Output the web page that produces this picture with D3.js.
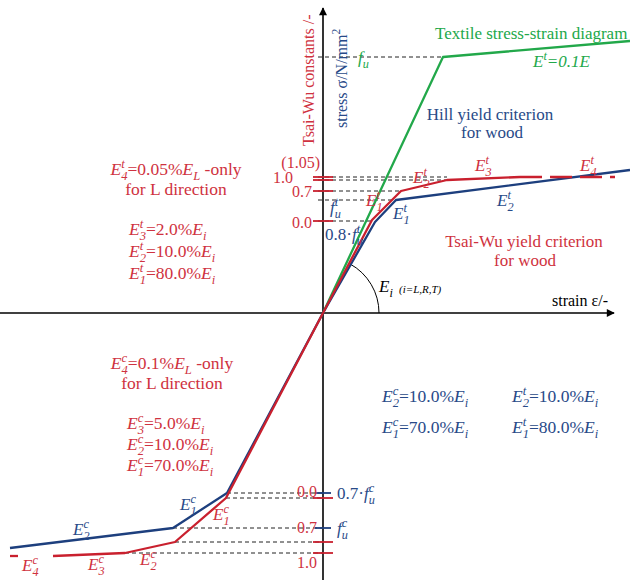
<!DOCTYPE html>
<html>
<head>
<meta charset="utf-8">
<script src="https://cdn.jsdelivr.net/npm/d3@7"></script>
<style>
  body { margin: 0; background: #fff; }
  svg text { font-family: "Liberation Serif", "Times New Roman", serif; }
</style>
</head>
<body>
<script>
// strain (x) / stress (y) in drawing units
const textileCurve = [[0, 0], [12.0, 25.6], [30.7, 27.2]];
const hillTension = [[0, 0], [5.2, 9.1], [7.3, 11.3], [30.7, 14.3]];
const tsaiTension = [[0, 0], [4.9, 9.3], [7.8, 12.2], [12.4, 13.3], [19.7, 13.6]];
const tsaiTensionE4 = [[19.7, 13.6], [29.2, 13.6]];
const hillCompression = [[0, 0], [-9.6, -18.0], [-15.0, -21.5], [-31.3, -23.5]];
const tsaiCompression = [[0, 0], [-9.7, -18.5], [-14.8, -22.9], [-19.8, -24.0], [-27.0, -24.3]];
const tsaiCompressionE4 = [[-31.3, -24.3], [-27.0, -24.3]];

// dashed reference levels: [stress, strain where the level meets its curve]
const levelsTension = [[9.2, 4.9], [11.3, 7.3], [12.2, 7.8], [13.3, 12.4], [13.6, 12.4], [25.6, 12.0]];
const levelsCompression = [[-18.0, -9.6], [-18.5, -9.7], [-21.5, -15.0], [-22.9, -14.8], [-24.0, -19.8]];

// Tsai-Wu constants marked on the stress axis
const tsaiMarksT = [9.2, 12.2, 13.3, 13.6];
const tsaiLabelsT = ["0.0", "0.7", "1.0", "(1.05)"];
const tsaiMarksC = [-18.5, -22.9, -24.0];
const tsaiLabelsC = ["0.0", "0.7", "1.0"];

// Hill strength levels
const hillMarksT = [9.2, 11.3];
const hillLabelsT = ["0.8·~f~_u^t", "~f~_u^t"];
const hillMarksC = [-18.0, -21.5];
const hillLabelsC = ["0.7·~f~_u^c", "~f~_u^c"];

// note blocks
const tsaiNotesT = ["~E~_4^t=0.05%~E~_L -only", "for L direction", "~E~_3^t=2.0%~E~_i", "~E~_2^t=10.0%~E~_i", "~E~_1^t=80.0%~E~_i"];
const tsaiNotesC = ["~E~_4^c=0.1%~E~_L -only", "for L direction", "~E~_3^c=5.0%~E~_i", "~E~_2^c=10.0%~E~_i", "~E~_1^c=70.0%~E~_i"];
const hillNotes = ["~E~_2^c=10.0%~E~_i", "~E~_2^t=10.0%~E~_i", "~E~_1^c=70.0%~E~_i", "~E~_1^t=80.0%~E~_i"];

const green = "#22a84a";
const blue = "#1d3f7e";
const red = "#c9202e";
const redText = "#cf3240";
const blueText = "#284a88";

const width = 630;
const height = 580;

let svg = d3.select("body").append("svg")
    .attr("width", width)
    .attr("height", height);

let x = d3.scaleLinear().domain([-32.3, 30.7]).range([0, width]);
let y = d3.scaleLinear().domain([-26.7, 31.3]).range([height, 0]);

let line = d3.line().x(d => x(d[0])).y(d => y(d[1]));

// small rich text helper: ~ toggles italic, _c subscript, ^c superscript
function rich(sel, str, px, py, size, color, anchor) {
    const t = sel.append("text")
        .attr("x", px).attr("y", py)
        .attr("fill", color)
        .attr("text-anchor", anchor || "start")
        .style("font-size", size + "px");
    let italic = false, lastItalic = false, shift = 0, prevSub = null, pendingDx = 0;
    let i = 0;
    while (i < str.length) {
        const c = str[i];
        if (c === "~") { italic = !italic; i++; continue; }
        if (c === "_" || c === "^") {
            const target = c === "_" ? size * 0.3 : -size * 0.42;
            const sp = t.append("tspan").text(str[i + 1])
                .attr("dy", target - shift)
                .style("font-size", size * 0.72 + "px")
                .style("font-style", lastItalic ? "italic" : "normal");
            if (c === "^" && prevSub) {
                const wSub = prevSub.node().getComputedTextLength();
                sp.attr("dx", -wSub);
                const wSup = sp.node().getComputedTextLength();
                pendingDx = Math.max(0, wSub - wSup);
            }
            prevSub = c === "_" ? sp : null;
            shift = target;
            i += 2;
            continue;
        }
        let j = i;
        while (j < str.length && !"~_^".includes(str[j])) j++;
        const run = t.append("tspan").text(str.slice(i, j))
            .attr("dy", -shift)
            .style("font-style", italic ? "italic" : "normal");
        if (pendingDx) run.attr("dx", pendingDx);
        pendingDx = 0;
        lastItalic = italic;
        shift = 0;
        prevSub = null;
        i = j;
    }
    return t;
}

// arrow heads
svg.append("defs").append("marker")
    .attr("id", "arrow")
    .attr("viewBox", "0 0 10 10")
    .attr("refX", 9).attr("refY", 5)
    .attr("markerUnits", "userSpaceOnUse")
    .attr("markerWidth", 12).attr("markerHeight", 8)
    .attr("orient", "auto")
    .append("path")
    .attr("d", "M0,0L10,5L0,10z")
    .attr("fill", "#000");

// dashed guide lines
const guides = svg.append("g")
    .attr("stroke", "#222")
    .attr("stroke-width", 1)
    .attr("stroke-dasharray", "4,3")
    .attr("fill", "none");

guides.selectAll(".gt")
    .data(levelsTension)
    .join("line")
    .attr("class", "gt")
    .attr("x1", x(-0.5))
    .attr("x2", d => x(d[1]))
    .attr("y1", d => y(d[0]))
    .attr("y2", d => y(d[0]));

guides.selectAll(".gc")
    .data(levelsCompression)
    .join("line")
    .attr("class", "gc")
    .attr("x1", d => x(d[1]))
    .attr("x2", x(0))
    .attr("y1", d => y(d[0]))
    .attr("y2", d => y(d[0]));

// axes
svg.append("line")
    .attr("x1", x(-32.3)).attr("x2", x(29.1))
    .attr("y1", y(0)).attr("y2", y(0))
    .attr("stroke", "#000").attr("stroke-width", 1.6)
    .attr("marker-end", "url(#arrow)");

svg.append("line")
    .attr("x1", x(0)).attr("x2", x(0))
    .attr("y1", y(-26.7)).attr("y2", y(30.5))
    .attr("stroke", "#000").attr("stroke-width", 1.6)
    .attr("marker-end", "url(#arrow)");

// angle arc for E_i
let arc = d3.path();
arc.arc(x(0), y(0), 56, -1.07, 0);
svg.append("path")
    .attr("d", arc.toString())
    .attr("fill", "none")
    .attr("stroke", "#000")
    .attr("stroke-width", 1);

// curves
const curves = [
    { pts: textileCurve, color: green, dash: null },
    { pts: hillTension, color: blue, dash: null },
    { pts: hillCompression, color: blue, dash: null },
    { pts: tsaiTension, color: red, dash: null },
    { pts: tsaiTensionE4, color: red, dash: "22,8" },
    { pts: tsaiCompression, color: red, dash: null },
    { pts: tsaiCompressionE4, color: red, dash: "8,36" }
];

svg.selectAll(".curve")
    .data(curves)
    .join("path")
    .attr("class", "curve")
    .attr("d", d => line(d.pts))
    .attr("fill", "none")
    .attr("stroke", d => d.color)
    .attr("stroke-width", 2.3)
    .attr("stroke-linejoin", "round")
    .attr("stroke-dasharray", d => d.dash);

// short marks on the stress axis
svg.selectAll(".tickT")
    .data(tsaiMarksT.concat(tsaiMarksC))
    .join("line")
    .attr("class", "tickT")
    .attr("x1", x(-1.0)).attr("x2", x(1.0))
    .attr("y1", d => y(d)).attr("y2", d => y(d))
    .attr("stroke", red).attr("stroke-width", 1.8);

svg.selectAll(".tickH")
    .data(hillMarksC)
    .join("line")
    .attr("class", "tickH")
    .attr("x1", x(-0.8)).attr("x2", x(0.8))
    .attr("y1", d => y(d)).attr("y2", d => y(d))
    .attr("stroke", blue).attr("stroke-width", 1.8);

// axis numbers
const tsaiLabelPosT = [[312, 7], [312, 6], [293, 3], [320, -9]];
tsaiLabelsT.forEach((s, i) => {
    rich(svg, s, tsaiLabelPosT[i][0], y(tsaiMarksT[i]) + tsaiLabelPosT[i][1], 16, redText, "end");
});
const tsaiLabelPosC = [[317, -1], [317, -9], [317, 15]];
tsaiLabelsC.forEach((s, i) => {
    rich(svg, s, tsaiLabelPosC[i][0], y(tsaiMarksC[i]) + tsaiLabelPosC[i][1], 16, redText, "end");
});
const hillLabelPosT = [[325, 19], [330, 13]];
hillLabelsT.forEach((s, i) => {
    rich(svg, s, hillLabelPosT[i][0], y(hillMarksT[i]) + hillLabelPosT[i][1], 17, blueText);
});
hillLabelsC.forEach((s, i) => {
    rich(svg, s, 337, y(hillMarksC[i]) + 6, 17, blueText);
});

// axis titles
rich(svg, "Tsai-Wu constants /-", 0, 0, 16, redText)
    .attr("transform", "translate(314,146) rotate(-90)");
rich(svg, "stress σ/N/mm^2", 0, 0, 16, blueText)
    .attr("transform", "translate(347,128) rotate(-90)");
rich(svg, "strain ε/-", 552, 306, 16, "#000");
rich(svg, "~E~_i", 379, 292, 17, "#000");
rich(svg, "~(i=L,R,T)~", 399, 293, 11, "#000");

// green annotations
rich(svg, "Textile stress-strain diagram", 435, 39, 17, green);
rich(svg, "~f~_u", 358, 63, 17, green);
rich(svg, "~E^t=0.1E~", 533, 67, 17, green);

// model titles
rich(svg, "Hill yield criterion", 490, 120, 17, blueText, "middle");
rich(svg, "for wood", 492, 138, 17, blueText, "middle");
rich(svg, "Tsai-Wu yield criterion", 524, 247, 17, redText, "middle");
rich(svg, "for wood", 525, 266, 17, redText, "middle");

// segment names along the curves
const segLabels = [
    ["~E~_1^t", 366, 206, redText], ["~E~_2^t", 413, 183, redText],
    ["~E~_3^t", 475, 171, redText], ["~E~_4^t", 580, 171, redText],
    ["~E~_1^t", 393, 219, blueText], ["~E~_2^t", 497, 206, blueText],
    ["~E~_1^c", 180, 510, blueText], ["~E~_2^c", 73, 535, blueText],
    ["~E~_1^c", 213, 520, redText], ["~E~_2^c", 140, 565, redText],
    ["~E~_3^c", 88, 570, redText], ["~E~_4^c", 22, 571, redText]
];
segLabels.forEach(d => rich(svg, d[0], d[1], d[2], 17, d[3]));

// note blocks
rich(svg, tsaiNotesT[0], 176, 175, 17.5, redText, "middle");
rich(svg, tsaiNotesT[1], 176, 195, 17.5, redText, "middle");
tsaiNotesT.slice(2).forEach((s, i) => rich(svg, s, 129, 235 + i * 22, 17.5, redText));

rich(svg, tsaiNotesC[0], 172, 369, 17.5, redText, "middle");
rich(svg, tsaiNotesC[1], 172, 389, 17.5, redText, "middle");
tsaiNotesC.slice(2).forEach((s, i) => rich(svg, s, 127, 429 + i * 21, 17.5, redText));

hillNotes.forEach((s, i) => {
    rich(svg, s, i % 2 === 0 ? 382 : 512, 402 + Math.floor(i / 2) * 31, 17.5, blueText);
});
</script>
</body>
</html>
